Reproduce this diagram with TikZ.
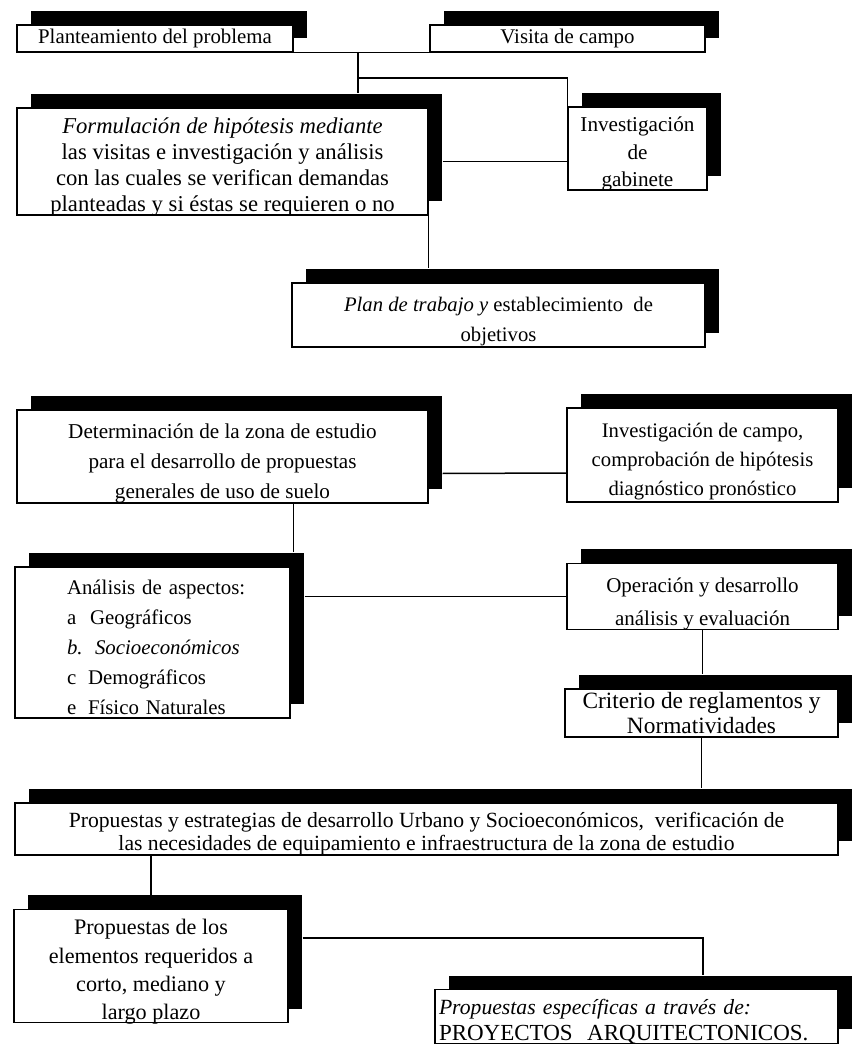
\documentclass[tikz,border=0pt]{standalone}
\usepackage{fontspec}
\setmainfont{Liberation Serif}
\usetikzlibrary{shadows,calc}
\newcommand{\dn}[2][c]{\raisebox{-3.3pt}[\height][\depth]{\begin{tabular}{@{}#1@{}}#2\end{tabular}}}
\begin{document}
\begin{tikzpicture}[x=0.6pt,y=-0.6pt,
  box/.style={draw=black, line width=0.7pt, fill=white, inner sep=0pt, align=center,
    drop shadow={shadow xshift=8.4pt, shadow yshift=8.4pt, fill=black, opacity=1}},
  sz/.style 2 args={minimum width=#1*0.6pt, minimum height=#2*0.6pt},
  conn/.style={line width=0.9pt},
  fs/.style 2 args={font=\fontsize{#1}{#2}\selectfont}]
\useasboundingbox[fill=white] (0,0) rectangle (852,1049);

% boxes
\node[box, sz={276}{27}, fs={12.5}{14}] (p1) at (155,38.5) {\raisebox{-1.5pt}{Planteamiento del problema}};
\node[box, sz={275}{27}, fs={12.5}{14}] (vis) at (567.5,38.5) {\raisebox{-1.5pt}{Visita de campo}};
\node[box, sz={411}{107}, fs={13.6}{15.6}] (form) at (222.5,161.5)
  {\dn{\textit{Formulación de hipótesis mediante}\\las visitas e investigación y análisis\\con las cuales se verifican demandas\\planteadas y si éstas se requieren o no}};
\node[box, sz={139}{83}, fs={12.7}{16.5}] (gab) at (637.5,148.5) {\dn{Investigación\\de\\gabinete}};
\node[box, sz={413}{64}, fs={12.4}{18}] (plan) at (498.5,315)
  {\dn{\textit{Plan de trabajo y} establecimiento\ \ de\\objetivos}};
\node[box, sz={411}{93}, fs={12.7}{18}] (det) at (222.5,456.5)
  {\dn{Determinación de la zona de estudio\\para el desarrollo de propuestas\\generales de uso de suelo}};
\node[box, sz={271}{94}, fs={12.4}{17.5}] (campo) at (702.5,455)
  {\dn{Investigación de campo,\\comprobación de hipótesis\\diagnóstico pronóstico}};
\node[box, sz={275}{151}, fs={12.5}{18}, align=left, text width=171*0.6pt] (ana) at (152.5,642.5)
  {\dn[l]{Análisis de aspectos:\\
   \makebox[13.8pt][l]{a}Geográficos\\
   \makebox[16.8pt][l]{\textit{b.}}\textit{Socioeconómicos}\\
   \makebox[12.6pt][l]{c}Demográficos\\
   \makebox[12.6pt][l]{e}Físico Naturales}};
\node[box, sz={271}{63}, fs={12.6}{20}] (op) at (702.5,596.5) {\dn{Operación y desarrollo\\análisis y evaluación}};
\node[box, sz={273}{48}, fs={14}{14.5}] (crit) at (701.5,713) {Criterio de reglamentos y\\Normatividades};
\node[box, sz={823}{52}, fs={13}{14}] (big) at (426.5,829)
  {\dn{Propuestas y estrategias de desarrollo Urbano y Socioeconómicos,\ \ verificación de\\las necesidades de equipamiento e infraestructura de la zona de estudio}};
\node[box, sz={274}{112}, fs={13.3}{17}] (prop) at (151,966)
  {\dn{Propuestas de los\\elementos requeridos a\\corto, mediano y\\largo plazo}};
\node[box, sz={403}{47}, fs={13}{16}, align=left, text width=395*0.6pt] (fin) at (636.5,1016.5)
  {\dn[l]{\textit{Propuestas específicas a través de:}\\{\fontsize{13.8}{16}\selectfont PROYECTOS\ \ ARQUITECTONICOS.}}};

% shadow tops and junctions
\coordinate (formT) at ($(form.north)+(0,-14)$);
\coordinate (planT) at ($(plan.north)+(0,-14)$);
\coordinate (anaT) at ($(ana.north east)+(3,-14)$);
\coordinate (critT) at ($(crit.north)+(0,-14)$);
\coordinate (bigT) at ($(big.north)+(0,-14)$);
\coordinate (propT) at ($(prop.north)+(0,-14)$);
\coordinate (finT) at ($(fin.north)+(0,-14)$);
\coordinate (j1) at (358,52);
\coordinate (j2) at (358,78);
\coordinate (j4) at (703,938);

% connectors
\draw[conn] (p1.south east) -- (vis.south west);
\draw[conn] (j1) -- (j1 |- formT);
\draw[conn] (j2) -- (j2 -| gab.west) -- (gab.north west);
\draw[conn] ($(form.east)+(14,0)$) -- (form.east -| gab.west);
\draw[conn] (form.south east) -- (form.south east |- planT);
\draw[conn] ($(det.east)+(14,17)$) -- ($(campo.west)+(0,18)$);
\draw[conn] (det.south -| anaT) -- (anaT);
\draw[conn] ($(ana.east |- op.west)+(14,0)$) -- (op.west);
\draw[conn] (op.south) -- (op.south |- critT);
\draw[conn] (crit.south) -- (crit.south |- bigT);
\draw[conn] (big.south -| propT) -- (propT);
\draw[conn] ($(prop.east)+(14,-28)$) -- (j4) -- (j4 |- finT);
\end{tikzpicture}
\end{document}
